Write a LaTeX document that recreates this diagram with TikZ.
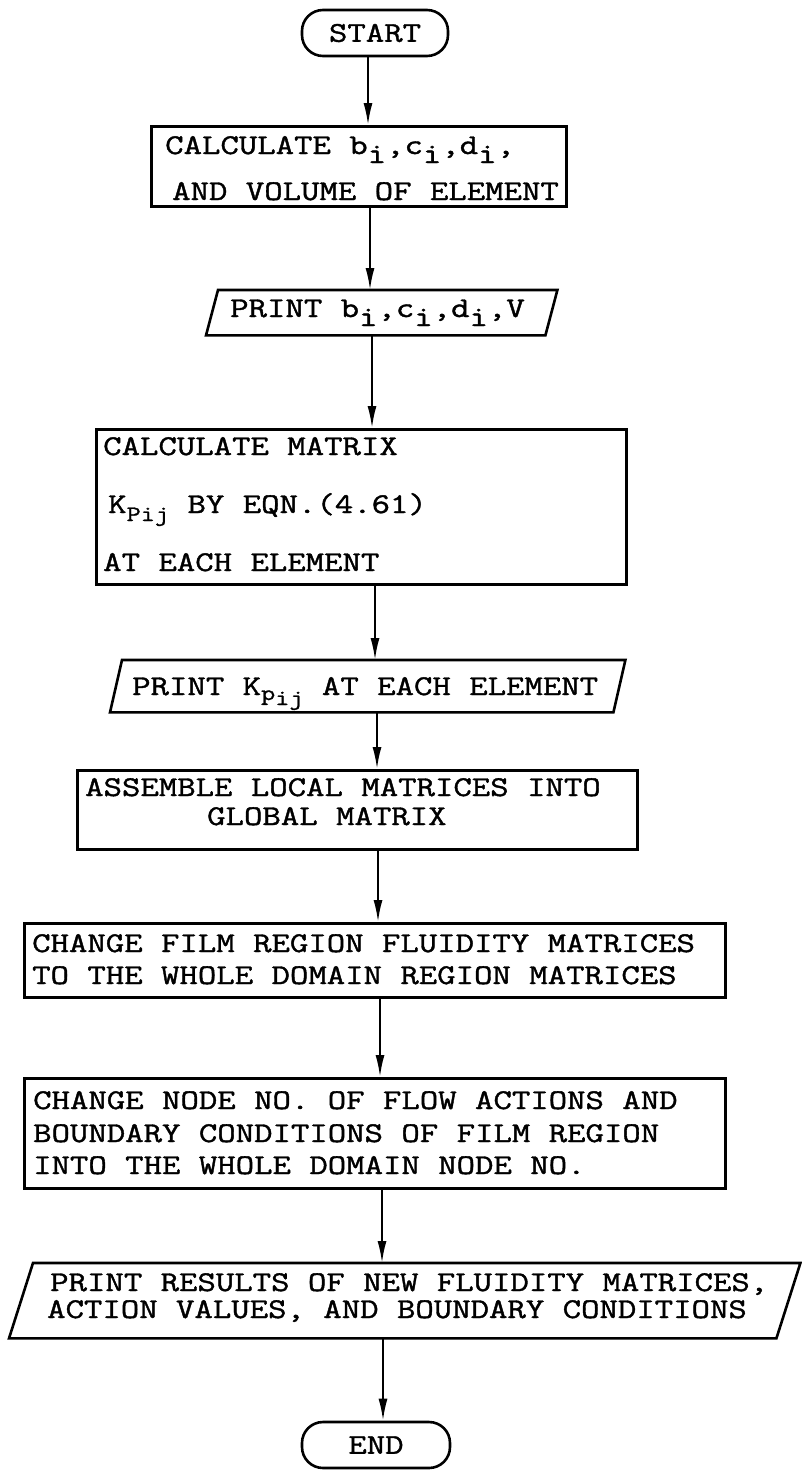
\documentclass[tikz,border=0pt]{standalone}
\usepackage{fontspec}
\newfontfamily\tw{Latin Modern Mono}[FakeStretch=1.25,FakeBold=1.4]
\usetikzlibrary{arrows.meta}
\newcommand\twf{\tw\fontsize{28.6}{30}\selectfont}
\newcommand\lo[1]{\raisebox{-9pt}{#1}}
\newcommand\lsm[2]{\raisebox{#1}{\tw\fontsize{22}{24}\selectfont #2}}
\begin{document}
\begin{tikzpicture}[x=1pt,y=-1pt,
  box/.style={draw, line width=2.6pt, rectangle, inner sep=0pt, anchor=north west},
  mid/.style={rectangle, inner sep=0pt, anchor=north west},
  term/.style={draw, line width=2.6pt, rounded corners=21pt, minimum width=146pt, minimum height=46pt, inner sep=0pt, font=\twf},
  txt/.style={anchor=base west, inner sep=0pt, font=\twf},
  arr/.style={line width=2pt, -{Latex[length=22pt,width=9pt]}},
  slant/.style={line width=2.6pt, line join=miter}]
\fill[white] (0,0) rectangle (802,1470);
\useasboundingbox (0,0) rectangle (802,1470);

% arrow columns
\coordinate (x1) at (368,0);
\coordinate (x2) at (370,0);
\coordinate (x3) at (372,0);
\coordinate (x4) at (375,0);
\coordinate (x5) at (377,0);
\coordinate (x6) at (378,0);
\coordinate (x7) at (380,0);
\coordinate (x8) at (382,0);
\coordinate (x9) at (383,0);

% START
\node[term] (start) at (375,33) {START};

% box 1
\node[box, minimum width=415pt, minimum height=80pt] (b1) at (150,125) {};
\node[txt] (b1a) at (165,154) {CALCULATE b\lo{i},c\lo{i},d\lo{i},};
\node[txt] (b1b) at (172,200) {AND VOLUME OF ELEMENT};

% box 2 (parallelogram)
\node[mid, minimum width=339pt, minimum height=45pt] (p2) at (212,290) {};
\draw[slant] ([xshift=6pt]p2.north west) -- ([xshift=6pt]p2.north east) -- ([xshift=-6pt]p2.south east) -- ([xshift=-6pt]p2.south west) -- cycle;
\node[txt] (p2t) at (230,317) {PRINT b\lo{i},c\lo{i},d\lo{i},V};

% box 3
\node[box, minimum width=530pt, minimum height=155pt] (b3) at (95,428) {};
\node[txt] (b3a) at (103,455) {CALCULATE MATRIX};
\node[txt] (b3b) at (108,513) {K\lsm{-8pt}{Pij} BY EQN.(4.61)};
\node[txt] (b3c) at (103,571) {AT EACH ELEMENT};

% box 4 (parallelogram)
\node[mid, minimum width=503pt, minimum height=52pt] (p4) at (116,660) {};
\draw[slant] ([xshift=6pt]p4.north west) -- ([xshift=6pt]p4.north east) -- ([xshift=-6pt]p4.south east) -- ([xshift=-6pt]p4.south west) -- cycle;
\node[txt] (p4t) at (132,695) {PRINT K\lsm{-5pt}{p}\lsm{-10pt}{ij} AT EACH ELEMENT};

% box 5
\node[box, minimum width=560pt, minimum height=79pt] (b5) at (76,769) {};
\node[txt] (b5a) at (85,796) {ASSEMBLE LOCAL MATRICES INTO};
\node[txt] (b5b) at (207,825) {GLOBAL MATRIX};

% box 6
\node[box, minimum width=701pt, minimum height=74pt] (b6) at (23,922) {};
\node[txt] (b6a) at (32,952) {CHANGE FILM REGION FLUIDITY MATRICES};
\node[txt] (b6b) at (32,984) {TO THE WHOLE DOMAIN REGION MATRICES};

% box 7
\node[box, minimum width=701pt, minimum height=110pt] (b7) at (23,1077) {};
\node[txt] (b7a) at (33,1109) {CHANGE NODE NO. OF FLOW ACTIONS AND};
\node[txt] (b7b) at (33,1142) {BOUNDARY CONDITIONS OF FILM REGION};
\node[txt] (b7c) at (33,1174) {INTO THE WHOLE DOMAIN NODE NO.};

% box 8 (parallelogram)
\node[mid, minimum width=767pt, minimum height=75pt] (p8) at (21,1263) {};
\draw[slant] ([xshift=12pt]p8.north west) -- ([xshift=12pt]p8.north east) -- ([xshift=-12pt]p8.south east) -- ([xshift=-12pt]p8.south west) -- cycle;
\node[txt] (p8a) at (50,1291) {PRINT RESULTS OF NEW FLUIDITY MATRICES,};
\node[txt] (p8b) at (47,1318) {ACTION VALUES, AND BOUNDARY CONDITIONS};

% END
\node[term, minimum width=148pt] (end) at (376,1445) {END};

% connectors
\draw[arr] (start.south -| x1) -- (b1.north -| x1);
\draw[arr] (b1.south -| x2) -- (p2.north -| x2);
\draw[arr] (p2.south -| x3) -- (b3.north -| x3);
\draw[arr] (b3.south -| x4) -- (p4.north -| x4);
\draw[arr] (p4.south -| x5) -- (b5.north -| x5);
\draw[arr] (b5.south -| x6) -- (b6.north -| x6);
\draw[arr] (b6.south -| x7) -- (b7.north -| x7);
\draw[arr] (b7.south -| x8) -- (p8.north -| x8);
\draw[arr] (p8.south -| x9) -- (end.north -| x9);
\end{tikzpicture}
\end{document}
